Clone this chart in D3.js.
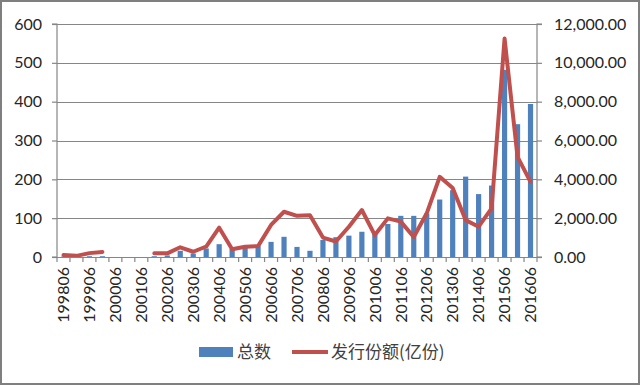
<!DOCTYPE html>
<html>
<head>
<meta charset="utf-8">
<script src="https://cdn.jsdelivr.net/npm/d3@7/dist/d3.min.js"></script>
<style>
  html, body { margin: 0; padding: 0; background: #fff; }
  svg { display: block; }
</style>
</head>
<body>
<svg id="chart" width="640" height="385"></svg>
<script>
const categories = ["199806","199812","199906","199912","200006","200012","200106","200112",
  "200206","200212","200306","200312","200406","200412","200506","200512","200606","200612",
  "200706","200712","200806","200812","200906","200912","201006","201012","201106","201112",
  "201206","201212","201306","201312","201406","201412","201506","201512","201606"];
const counts = [1, 1, 2, 2, null, null, null, 2, 4, 16, 9, 22, 33, 21, 26, 28, 39, 52, 26, 16,
  44, 51, 55, 65, 61, 85, 106, 106, 112, 148, 172, 207, 162, 184, 482, 342, 394];
const amounts = [100, 60, 200, 260, null, null, null, 190, 190, 500, 270, 540, 1510, 400, 530, 560,
  1650, 2330, 2120, 2150, 1000, 800, 1560, 2420, 1130, 1990, 1820, 1030, 2250, 4130, 3550, 1900,
  1560, 2500, 11250, 5160, 3870];
const leftTicks = [0, 100, 200, 300, 400, 500, 600];
const rightTicks = [0, 2000, 4000, 6000, 8000, 10000, 12000];
const xLabels = ["199806","199906","200006","200106","200206","200306","200406","200506","200606",
  "200706","200806","200906","201006","201106","201206","201306","201406","201506","201606"];
const seriesNames = ["总数", "发行份额(亿份)"];

const svg = d3.select("#chart");
const W = 640, H = 385;
const m = { left: 57, right: 537, top: 24, bottom: 257 };
const axisColor = "#868686";
const textColor = "#262626";
const barColor = "#4F81BD";
const lineColor = "#C0504D";
const numFont = "Lato, 'Open Sans', sans-serif";
const cjkFont = "'Noto Sans CJK SC', sans-serif";

// outer frame
svg.append("rect").attr("x", 1).attr("y", 1).attr("width", W - 2).attr("height", H - 2)
  .attr("fill", "#fff").attr("stroke", "#7f7f7f").attr("stroke-width", 2);

const x = d3.scaleBand().domain(categories).range([m.left, m.right]).padding(0);
const yL = d3.scaleLinear().domain([0, 600]).range([m.bottom, m.top]);
const yR = d3.scaleLinear().domain([0, 12000]).range([m.bottom, m.top]);

// gridlines
svg.append("g").selectAll("line").data(leftTicks.filter(d => d > 0)).join("line")
  .attr("x1", m.left).attr("x2", m.right)
  .attr("y1", d => Math.round(yL(d)) + 0.5).attr("y2", d => Math.round(yL(d)) + 0.5)
  .attr("stroke", axisColor).attr("stroke-width", 1.2);

// bars
const bw = x.step() / 2.5;
svg.append("g").selectAll("rect").data(categories.map((c, i) => ({ c, v: counts[i] })).filter(d => d.v != null))
  .join("rect")
  .attr("x", d => x(d.c) + x.step() / 2 - bw / 2)
  .attr("width", bw)
  .attr("y", d => yL(d.v))
  .attr("height", d => yL(0) - yL(d.v))
  .attr("fill", barColor);

// line
const line = d3.line()
  .defined(d => d.v != null)
  .x(d => x(d.c) + x.step() / 2)
  .y(d => yR(d.v));
svg.append("path")
  .datum(categories.map((c, i) => ({ c, v: amounts[i] })))
  .attr("d", line)
  .attr("fill", "none").attr("stroke", lineColor).attr("stroke-width", 4)
  .attr("stroke-linejoin", "round").attr("stroke-linecap", "round");

// left axis
const gL = svg.append("g").attr("transform", `translate(${m.left},0)`)
  .call(d3.axisLeft(yL).tickValues(leftTicks).tickSize(5).tickPadding(10));
// right axis
const gR = svg.append("g").attr("transform", `translate(${m.right},0)`)
  .call(d3.axisRight(yR).tickValues(rightTicks).tickSize(5).tickPadding(12).tickFormat(d3.format(",.2f")));
// bottom axis
const gB = svg.append("g").attr("transform", `translate(0,${m.bottom})`)
  .call(d3.axisBottom(x).tickValues(xLabels).tickSize(0).tickPadding(0));

[gL, gR, gB].forEach(g => {
  g.select(".domain").attr("stroke", axisColor).attr("stroke-width", 1.2);
  g.selectAll(".tick line").attr("stroke", axisColor).attr("stroke-width", 1.2);
  g.selectAll("text").attr("fill", textColor).style("font-family", numFont).style("font-size", "16px");
});
gB.select(".domain").attr("d", `M${m.left},0.5H${m.right}`);
gL.select(".domain").attr("d", `M-5,${yL(0)}H0V${yL(600)}H-5`);
gR.select(".domain").attr("d", `M5,${yR(0)}H0V${yR(12000)}H5`);

// category boundary ticks on x axis
svg.append("g").selectAll("line").data(d3.range(categories.length + 1)).join("line")
  .attr("x1", i => m.left + i * x.step()).attr("x2", i => m.left + i * x.step())
  .attr("y1", m.bottom).attr("y2", m.bottom + 5)
  .attr("stroke", axisColor).attr("stroke-width", 1.2);

gB.selectAll(".tick text")
  .attr("transform", "rotate(-90)")
  .attr("text-anchor", "end")
  .attr("x", -10).attr("y", 0).attr("dy", "0.36em");

// legend
const lg = svg.append("g");
lg.append("rect").attr("x", 199).attr("y", 347).attr("width", 34).attr("height", 10).attr("fill", barColor);
lg.append("text").attr("x", 237).attr("y", 352).attr("dy", "0.36em").text(seriesNames[0])
  .attr("fill", "#404040").style("font-family", cjkFont).style("font-size", "17px");
lg.append("line").attr("x1", 292).attr("x2", 328).attr("y1", 352).attr("y2", 352)
  .attr("stroke", lineColor).attr("stroke-width", 4);
lg.append("text").attr("x", 331).attr("y", 352).attr("dy", "0.36em").text(seriesNames[1])
  .attr("fill", "#404040").style("font-family", cjkFont).style("font-size", "17px");
</script>
</body>
</html>
